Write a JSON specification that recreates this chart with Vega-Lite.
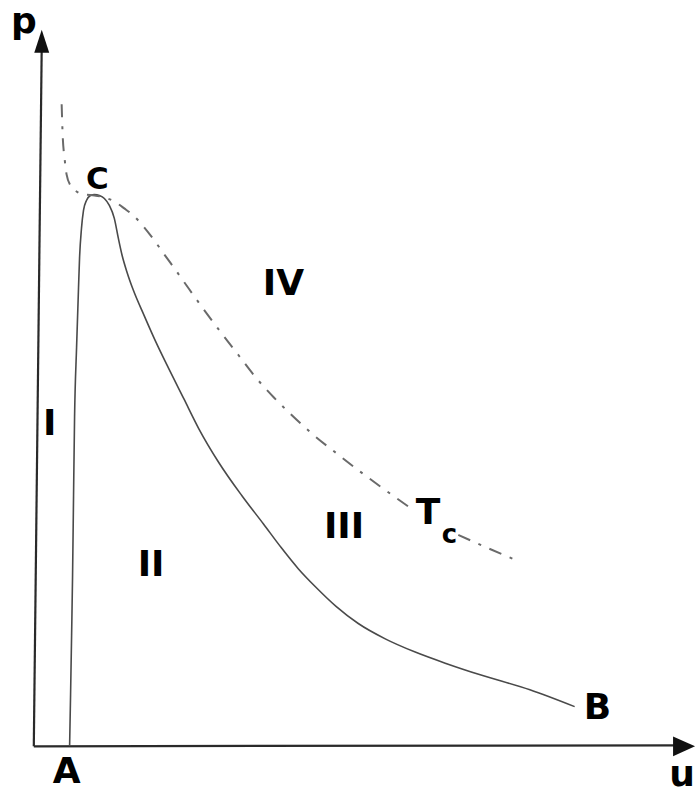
{
  "$schema": "https://vega.github.io/schema/vega-lite/v6.json",
  "width": 696,
  "height": 793,
  "autosize": {"type": "fit", "contains": "padding"},
  "padding": 0,
  "background": "white",
  "config": {"view": {"stroke": null}},
  "datasets": {
    "saturation": [
      {"i": 0, "v": 0.554, "p": 0},
      {"i": 1, "v": 0.569, "p": 0.743},
      {"i": 2, "v": 0.585, "p": 1.6},
      {"i": 3, "v": 0.6, "p": 2.457},
      {"i": 4, "v": 0.615, "p": 3.6},
      {"i": 5, "v": 0.631, "p": 4.743},
      {"i": 6, "v": 0.662, "p": 5.743},
      {"i": 7, "v": 0.692, "p": 6.6},
      {"i": 8, "v": 0.708, "p": 7.029},
      {"i": 9, "v": 0.738, "p": 7.457},
      {"i": 10, "v": 0.769, "p": 7.714},
      {"i": 11, "v": 0.815, "p": 7.857},
      {"i": 12, "v": 0.877, "p": 7.929},
      {"i": 13, "v": 0.938, "p": 7.943},
      {"i": 14, "v": 1.015, "p": 7.929},
      {"i": 15, "v": 1.092, "p": 7.886},
      {"i": 16, "v": 1.169, "p": 7.786},
      {"i": 17, "v": 1.246, "p": 7.6},
      {"i": 18, "v": 1.308, "p": 7.314},
      {"i": 19, "v": 1.369, "p": 7.057},
      {"i": 20, "v": 1.446, "p": 6.814},
      {"i": 21, "v": 1.538, "p": 6.571},
      {"i": 22, "v": 1.708, "p": 6.2},
      {"i": 23, "v": 1.892, "p": 5.814},
      {"i": 24, "v": 2.062, "p": 5.486},
      {"i": 25, "v": 2.323, "p": 5.0},
      {"i": 26, "v": 2.554, "p": 4.571},
      {"i": 27, "v": 2.862, "p": 4.086},
      {"i": 28, "v": 3.215, "p": 3.614},
      {"i": 29, "v": 3.554, "p": 3.2},
      {"i": 30, "v": 3.831, "p": 2.857},
      {"i": 31, "v": 4.092, "p": 2.557},
      {"i": 32, "v": 4.354, "p": 2.3},
      {"i": 33, "v": 4.677, "p": 2.014},
      {"i": 34, "v": 5.015, "p": 1.771},
      {"i": 35, "v": 5.446, "p": 1.543},
      {"i": 36, "v": 5.892, "p": 1.36},
      {"i": 37, "v": 6.4, "p": 1.186},
      {"i": 38, "v": 6.908, "p": 1.029},
      {"i": 39, "v": 7.677, "p": 0.814},
      {"i": 40, "v": 8.369, "p": 0.571}
    ],
    "isotherm": [
      {"seg": 1, "i": 0, "v": 0.431, "p": 9.243},
      {"seg": 1, "i": 1, "v": 0.446, "p": 8.814},
      {"seg": 1, "i": 2, "v": 0.477, "p": 8.457},
      {"seg": 1, "i": 3, "v": 0.508, "p": 8.229},
      {"seg": 1, "i": 4, "v": 0.569, "p": 8.071},
      {"seg": 1, "i": 5, "v": 0.662, "p": 7.986},
      {"seg": 1, "i": 6, "v": 0.785, "p": 7.943},
      {"seg": 1, "i": 7, "v": 0.938, "p": 7.929},
      {"seg": 1, "i": 8, "v": 1.092, "p": 7.9},
      {"seg": 1, "i": 9, "v": 1.246, "p": 7.843},
      {"seg": 1, "i": 10, "v": 1.4, "p": 7.743},
      {"seg": 1, "i": 11, "v": 1.554, "p": 7.629},
      {"seg": 1, "i": 12, "v": 1.708, "p": 7.471},
      {"seg": 1, "i": 13, "v": 1.862, "p": 7.286},
      {"seg": 1, "i": 14, "v": 2.015, "p": 7.086},
      {"seg": 1, "i": 15, "v": 2.215, "p": 6.829},
      {"seg": 1, "i": 16, "v": 2.4, "p": 6.586},
      {"seg": 1, "i": 17, "v": 2.631, "p": 6.286},
      {"seg": 1, "i": 18, "v": 2.908, "p": 5.943},
      {"seg": 1, "i": 19, "v": 3.169, "p": 5.629},
      {"seg": 1, "i": 20, "v": 3.431, "p": 5.314},
      {"seg": 1, "i": 21, "v": 3.708, "p": 5.029},
      {"seg": 1, "i": 22, "v": 3.969, "p": 4.786},
      {"seg": 1, "i": 23, "v": 4.323, "p": 4.486},
      {"seg": 1, "i": 24, "v": 4.708, "p": 4.2},
      {"seg": 1, "i": 25, "v": 5.046, "p": 3.957},
      {"seg": 1, "i": 26, "v": 5.4, "p": 3.714},
      {"seg": 1, "i": 27, "v": 5.831, "p": 3.429},
      {"seg": 2, "i": 28, "v": 6.569, "p": 3.043},
      {"seg": 2, "i": 29, "v": 7.015, "p": 2.857},
      {"seg": 2, "i": 30, "v": 7.446, "p": 2.686}
    ],
    "axes": [
      {"axis": "p", "i": 0, "v": 0, "p": 0},
      {"axis": "p", "i": 1, "v": 0.123, "p": 10.1},
      {"axis": "v", "i": 0, "v": 0, "p": 0},
      {"axis": "v", "i": 1, "v": 10.0, "p": 0.014}
    ],
    "labels": [
      {"label": "p", "v": -0.154, "p": 10.271},
      {"label": "A", "v": 0.508, "p": -0.529},
      {"label": "B", "v": 8.723, "p": 0.386},
      {"label": "u", "v": 10.031, "p": -0.571},
      {"label": "I", "v": 0.246, "p": 4.486},
      {"label": "II", "v": 1.815, "p": 2.457},
      {"label": "III", "v": 4.8, "p": 3.0},
      {"label": "IV", "v": 3.862, "p": 6.5},
      {"label": "T", "v": 6.1, "p": 3.2}
    ]
  },
  "encoding": {
    "x": {"field": "v", "type": "quantitative", "axis": null,
          "scale": {"domain": [-0.523, 10.185], "nice": false, "zero": false}},
    "y": {"field": "p", "type": "quantitative", "axis": null,
          "scale": {"domain": [-0.586, 10.743], "nice": false, "zero": false}}
  },
  "layer": [
    {
      "data": {"name": "axes"},
      "mark": {"type": "line", "color": "#2a2a2a", "strokeWidth": 2.2},
      "encoding": {
        "detail": {"field": "axis"},
        "order": {"field": "i"}
      }
    },
    {
      "data": {"values": [{"v": 0.123, "p": 10.15}]},
      "mark": {"type": "point", "filled": true, "color": "#111", "opacity": 1,
               "shape": "M0,-1L0.65,1L-0.65,1Z", "size": 529}
    },
    {
      "data": {"values": [{"v": 10.062, "p": 0}]},
      "mark": {"type": "point", "filled": true, "color": "#111", "opacity": 1,
               "shape": "M1,0L-1,-0.9L-1,0.9Z", "size": 484}
    },
    {
      "data": {"name": "saturation"},
      "mark": {"type": "line", "color": "#4a4a4a", "strokeWidth": 1.6, "interpolate": "monotone"},
      "encoding": {"order": {"field": "i"}}
    },
    {
      "data": {"name": "isotherm"},
      "mark": {"type": "line", "color": "#6a6a6a", "strokeWidth": 2,
               "strokeDash": [13, 9, 3, 9], "interpolate": "monotone"},
      "encoding": {
        "detail": {"field": "seg"},
        "order": {"field": "i"}
      }
    },
    {
      "data": {"name": "labels"},
      "mark": {"type": "text", "font": "DejaVu Sans", "fontWeight": "bold",
               "fontSize": 36, "align": "center", "baseline": "alphabetic", "color": "#000"},
      "encoding": {"text": {"field": "label"}}
    },
    {
      "data": {"values": [{"label": "C", "v": 0.985, "p": 8.029}]},
      "mark": {"type": "text", "font": "DejaVu Sans", "fontWeight": "bold",
               "fontSize": 31, "align": "center", "baseline": "alphabetic", "color": "#000"},
      "encoding": {"text": {"field": "label"}}
    },
    {
      "data": {"values": [{"label": "c", "v": 6.43, "p": 2.929}]},
      "mark": {"type": "text", "font": "DejaVu Sans", "fontWeight": "bold",
               "fontSize": 26, "align": "center", "baseline": "alphabetic", "color": "#000"},
      "encoding": {"text": {"field": "label"}}
    }
  ]
}
